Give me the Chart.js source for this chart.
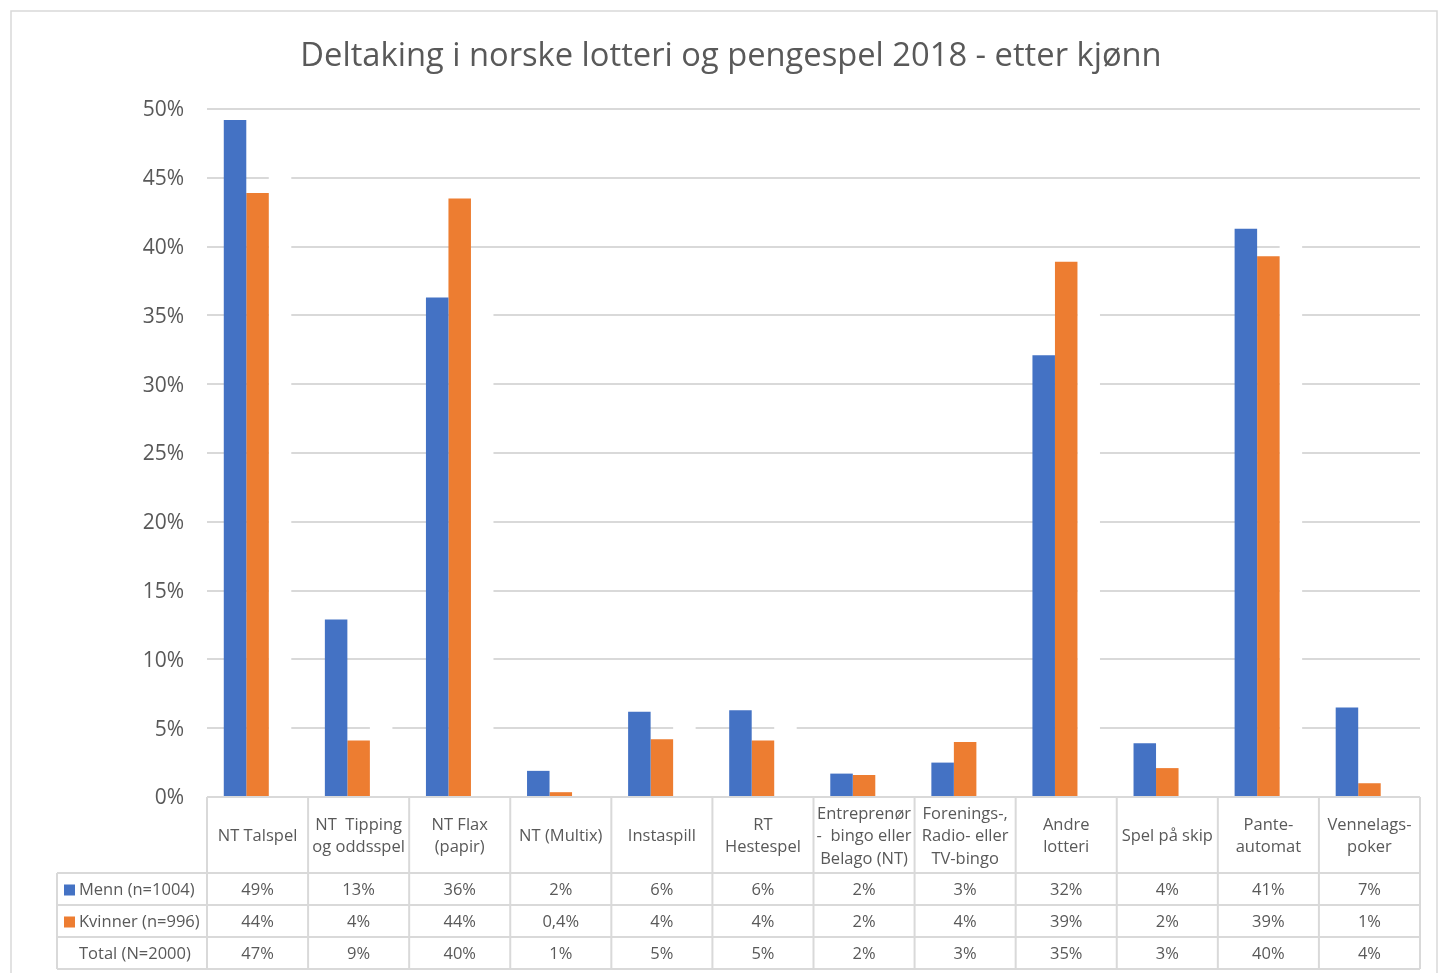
<!DOCTYPE html>
<html>
<head>
<meta charset="utf-8">
<script src="https://cdn.jsdelivr.net/npm/chart.js@4.4.1/dist/chart.umd.min.js"></script>
<style>
  html, body { margin: 0; padding: 0; background: #fff; }
  #wrap { position: relative; width: 1439px; height: 973px; }
</style>
</head>
<body>
<div id="wrap"><canvas id="chart"></canvas></div>
<script>
// -------------------------
// Data
// -------------------------
const chartTitle = 'Deltaking i norske lotteri og pengespel 2018 - etter kjønn';

const categories = [
    ['NT Talspel'],
    ['NT  Tipping', 'og oddsspel'],
    ['NT Flax', '(papir)'],
    ['NT (Multix)'],
    ['Instaspill'],
    ['RT', 'Hestespel'],
    ['Entreprenør', '-  bingo eller', 'Belago (NT)'],
    ['Forenings-,', 'Radio- eller', 'TV-bingo'],
    ['Andre', 'lotteri'],
    ['Spel på skip'],
    ['Pante-', 'automat'],
    ['Vennelags-', 'poker']
];

const seriesNames = ['Menn (n=1004)', 'Kvinner (n=996)', 'Total (N=2000)'];
const seriesColors = ['#4472C4', '#ED7D31', '#FFFFFF'];

// bar heights (percent)
const menn    = [49.2, 12.9, 36.3, 1.9, 6.2, 6.3, 1.7, 2.5, 32.1, 3.9, 41.3, 6.5];
const kvinner = [43.9, 4.1, 43.5, 0.35, 4.2, 4.1, 1.6, 4.0, 38.9, 2.1, 39.3, 1.0];
const total   = [46.7, 8.6, 39.9, 1.2, 5.2, 5.2, 1.7, 3.2, 35.4, 3.0, 40.3, 3.8];

// values printed in the data table
const mennTable    = [49, 13, 36, 2, 6, 6, 2, 3, 32, 4, 41, 7];
const kvinnerTable = [44, 4, 44, 0.4, 4, 4, 2, 4, 39, 2, 39, 1];
const totalTable   = [47, 9, 40, 1, 5, 5, 2, 3, 35, 3, 40, 4];

const yMin = 0, yMax = 50, yStep = 5;

// -------------------------
// Table + title plugin
// -------------------------
const FONT = 'Open Sans';
const TEXT = '#595959';
const LINE = '#d9d9d9';

function fmt(v) {
    return String(v).replace('.', ',') + '%';
}

const tablePlugin = {
    id: 'dataTable',
    beforeDraw(chart) {
        const ctx = chart.ctx;
        ctx.save();
        ctx.fillStyle = '#fff';
        ctx.fillRect(0, 0, chart.width, chart.height);
        ctx.strokeStyle = LINE;
        ctx.lineWidth = 1.5;
        ctx.strokeRect(11, 11, 1426, 1000);
        ctx.fillStyle = TEXT;
        ctx.font = `32.7px "${FONT}"`;
        ctx.textAlign = 'center';
        ctx.textBaseline = 'alphabetic';
        ctx.fillText(chartTitle, 731, 66);
        ctx.restore();
    },
    afterDraw(chart) {
        const ctx = chart.ctx;
        const xs = chart.scales.x;
        const area = chart.chartArea;
        const n = categories.length;
        const step = (area.right - area.left) / n;
        const top = area.bottom;
        const headBottom = top + 76;
        const rowH = 32;
        const rows = [mennTable, kvinnerTable, totalTable];
        const tableBottom = headBottom + rowH * rows.length;
        const leftCol = 57;

        ctx.save();
        ctx.strokeStyle = LINE;
        ctx.lineWidth = 2;
        ctx.beginPath();
        // top line of the table (x axis)
        ctx.moveTo(area.left, top);
        ctx.lineTo(area.right, top);
        // row lines
        for (let r = 0; r <= rows.length; r++) {
            const y = headBottom + r * rowH;
            ctx.moveTo(leftCol, y);
            ctx.lineTo(area.right, y);
        }
        // column lines
        for (let i = 0; i <= n; i++) {
            const x = i < n ? xs.getPixelForValue(i) - step / 2 : xs.getPixelForValue(n - 1) + step / 2;
            ctx.moveTo(x, top);
            ctx.lineTo(x, tableBottom);
        }
        ctx.moveTo(leftCol, headBottom);
        ctx.lineTo(leftCol, tableBottom);
        ctx.stroke();

        ctx.fillStyle = TEXT;
        ctx.font = `16.5px "${FONT}"`;
        ctx.textAlign = 'center';
        ctx.textBaseline = 'middle';
        const headMid = (top + headBottom) / 2 + 1.5;
        const lh = 22.5;
        categories.forEach((lines, i) => {
            const cx = xs.getPixelForValue(i);
            const y0 = headMid - (lines.length - 1) * lh / 2;
            lines.forEach((t, k) => ctx.fillText(t, cx, y0 + k * lh));
        });

        rows.forEach((vals, r) => {
            const cy = headBottom + r * rowH + rowH / 2 + 1.5;
            vals.forEach((v, i) => ctx.fillText(fmt(v), xs.getPixelForValue(i), cy));
            // legend key + series name
            if (r < 2) {
                ctx.fillStyle = seriesColors[r];
                ctx.fillRect(64, cy - 6, 11, 11);
                ctx.fillStyle = TEXT;
            }
            ctx.textAlign = 'left';
            ctx.fillText(seriesNames[r], 79, cy);
            ctx.textAlign = 'center';
        });
        ctx.restore();
    }
};

// -------------------------
// Chart
// -------------------------
const ctx = document.getElementById('chart').getContext('2d');
new Chart(ctx, {
    type: 'bar',
    data: {
        labels: categories.map(c => c.join(' ')),
        datasets: [menn, kvinner, total].map((d, i) => ({
            label: seriesNames[i],
            data: d,
            backgroundColor: seriesColors[i],
            borderWidth: 0,
            categoryPercentage: 0.668,
            barPercentage: 1.0
        }))
    },
    options: {
        responsive: true,
        maintainAspectRatio: false,
        animation: false,
        events: [],
        layout: { padding: { top: 109, right: 19, bottom: 176, left: 0 } },
        plugins: {
            legend: { display: false },
            title: { display: false },
            tooltip: { enabled: false }
        },
        scales: {
            x: { display: false },
            y: {
                min: yMin,
                max: yMax,
                ticks: {
                    stepSize: yStep,
                    padding: 23,
                    labelOffset: 1.5,
                    color: TEXT,
                    font: { family: FONT, size: 21 },
                    callback: v => v + '%'
                },
                grid: { color: LINE, lineWidth: 2, drawTicks: false },
                border: { display: false },
                afterFit(scale) { scale.width = 207; }
            }
        }
    },
    plugins: [tablePlugin]
});
</script>
</body>
</html>
